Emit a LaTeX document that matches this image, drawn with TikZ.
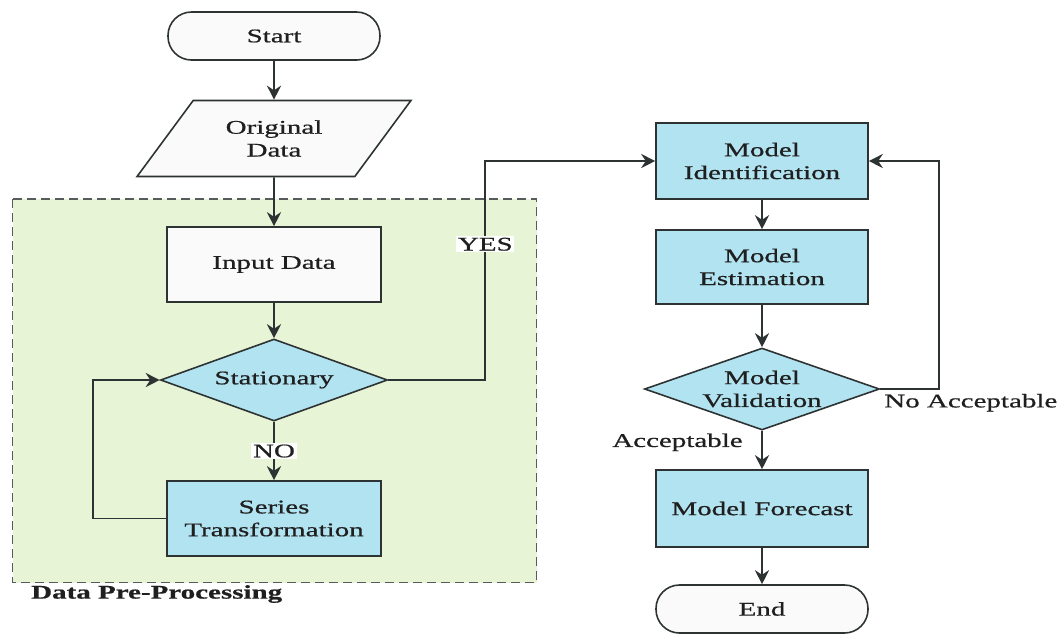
\documentclass[tikz,border=0pt]{standalone}
\usepackage{fontspec}
\setmainfont{Liberation Serif}[FakeStretch=1.5, FakeBold=0.7]
\usepackage{tikz}
\usetikzlibrary{shapes.geometric, arrows.meta, positioning}
\definecolor{boxblue}{RGB}{178,227,241}
\definecolor{prepgreen}{RGB}{232,244,214}
\definecolor{lineclr}{RGB}{45,50,50}
\definecolor{paper}{RGB}{250,250,250}
\tikzstyle{startstop} = [rectangle, rounded corners=0.47cm, minimum width=4.24cm, minimum height=0.96cm, text centered, draw=lineclr, line width=0.9pt, fill=paper]
\tikzstyle{io} = [trapezium, trapezium left angle=52, trapezium right angle=128, trapezium stretches=true, minimum width=5.48cm, minimum height=1.52cm, align=center, draw=lineclr, line width=0.9pt, fill=paper]
\tikzstyle{process} = [rectangle, minimum width=4.28cm, minimum height=1.5cm, align=center, draw=lineclr, line width=0.9pt, fill=boxblue]
\tikzstyle{plain} = [process, fill=paper]
\tikzstyle{decision} = [diamond, aspect=2.77, minimum width=4.54cm, minimum height=1.64cm, inner sep=0pt, align=center, draw=lineclr, line width=0.9pt, fill=boxblue]
\tikzstyle{arrow} = [line width=1.1pt, draw=lineclr, ->, >={Stealth[length=2.8mm,width=2.8mm]}]
\tikzstyle{lbl} = [fill=white, inner sep=1pt]

\begin{document}
\begin{tikzpicture}[node distance=2cm, font=\fontsize{11}{13}\selectfont, text=black!88]
    \useasboundingbox (0,0) rectangle (21.24,-12.66);

    % Pre-processing area
    \draw [lineclr!80, fill=prepgreen, line width=0.7pt, dash pattern=on 0.18cm off 0.1cm] (0.25,-3.98) rectangle (10.73,-11.65);
    \node (prep_label) [anchor=west, font=\fontsize{11}{13}\selectfont\bfseries] at (0.5,-11.88) {Data Pre-Processing};

    % Nodes
    \node (start) [startstop] at (5.48,-0.72) {Start};
    \node (orig) [io, below of=start, node distance=2.05cm] {Original\\Data};
    \node (input) [plain, below of=orig, node distance=2.52cm] {Input Data};
    \node (stat) [decision, below of=input, node distance=2.31cm] {Stationary};
    \node (series) [process, below of=stat, node distance=2.77cm] {Series\\Transformation};

    % Model side
    \node (modid) [process, minimum width=4.24cm, minimum height=1.52cm] at (15.24,-3.22) {Model\\Identification};
    \node (modest) [process, minimum width=4.24cm, minimum height=1.48cm, below of=modid, node distance=2.12cm] {Model\\Estimation};
    \node (modval) [decision, aspect=2.87, minimum width=4.7cm, below of=modest, node distance=2.44cm] {Model\\Validation};
    \node (forecast) [process, minimum width=4.24cm, minimum height=1.54cm, below of=modval, node distance=2.39cm] {Model Forecast};
    \node (end) [startstop, below of=forecast, node distance=2.01cm] {End};

    % Arrows
    \draw [arrow] (start) -- (orig);
    \draw [arrow] (orig) -- (input);
    \draw [arrow] (input) -- (stat);
    \draw [arrow] (stat) -- node[lbl] {NO} (series);
    \draw [arrow] (series.west) -- ++(-1.46,0) |- (stat.west);
    \draw [arrow] (stat.east) -- ++(1.94,0) |- node[lbl, pos=0.31] {YES} (modid.west);

    \draw [arrow] (modid) -- (modest);
    \draw [arrow] (modest) -- (modval);
    \draw [arrow] (modval) -- node[pos=0.3, left=0.25cm] {Acceptable} (forecast);
    \draw [arrow] (forecast) -- (end);
    \draw [arrow] (modval.east) node[anchor=north west, inner sep=0pt, xshift=0.06cm, yshift=-0.08cm] {No Acceptable} -- ++(1.18,0) |- (modid.east);

\end{tikzpicture}
\end{document}
